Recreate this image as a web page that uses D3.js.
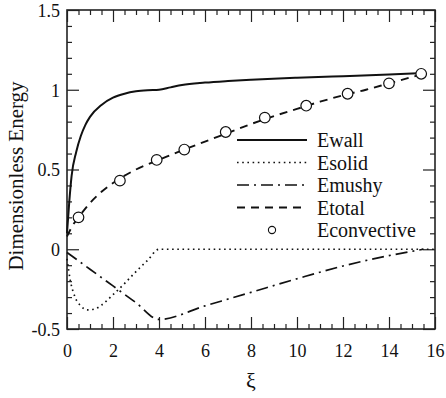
<!DOCTYPE html>
<html>
<head>
<meta charset="utf-8">
<script src="https://cdn.jsdelivr.net/npm/d3@7"></script>
<style>
  html, body { margin: 0; padding: 0; background: #fff; }
  svg { display: block; }
  svg text { font-family: "Liberation Serif", "Times New Roman", Times, serif; fill: #111; }
</style>
</head>
<body>
<svg id="chart" width="446" height="398"></svg>
<script>
// Energy components along the dimensionless coordinate ξ
const ewallX   = [0, 0.1, 0.2, 0.4, 0.6, 0.8, 1.0, 1.5, 2.0, 2.5, 3.0, 3.5, 4.0, 4.5, 5.0, 6.0, 7.0, 8.0, 10.0, 12.0, 14.0, 15.5];
const ewallY   = [0.1, 0.3, 0.46, 0.61, 0.71, 0.78, 0.83, 0.905, 0.95, 0.975, 0.99, 0.997, 1.0, 1.015, 1.03, 1.045, 1.055, 1.063, 1.075, 1.085, 1.095, 1.105];

const esolidX  = [0, 0.15, 0.35, 0.6, 0.9, 1.2, 1.5, 2.0, 2.5, 3.0, 3.5, 4.0, 16.0];
const esolidY  = [-0.06, -0.2, -0.3, -0.355, -0.38, -0.375, -0.35, -0.285, -0.215, -0.14, -0.07, 0, 0];

const emushyX  = [0, 1, 2, 3, 4, 6, 8, 10, 12, 14, 15.5];
const emushyY  = [-0.02, -0.125, -0.23, -0.335, -0.44, -0.355, -0.27, -0.185, -0.105, -0.04, 0];

const etotalX  = [0, 0.25, 0.5, 1.0, 1.5, 2.0, 3.0, 4.0, 5.0, 6.0, 7.0, 8.0, 9.0, 10.0, 11.0, 12.0, 13.0, 14.0, 15.5];
const etotalY  = [0.08, 0.15, 0.2, 0.29, 0.36, 0.415, 0.5, 0.56, 0.62, 0.675, 0.73, 0.785, 0.835, 0.88, 0.925, 0.965, 1.0, 1.04, 1.1];

const econvX   = [0.5, 2.3, 3.9, 5.1, 6.9, 8.6, 10.4, 12.2, 14.0, 15.4];
const econvY   = [0.2, 0.43, 0.56, 0.625, 0.735, 0.825, 0.9, 0.975, 1.04, 1.1];

const xTicks   = [0, 2, 4, 6, 8, 10, 12, 14, 16];
const yTicks   = [-0.5, 0, 0.5, 1, 1.5];
const yTickLabels = ["-0.5", "0", "0.5", "1", "1.5"];

const legendNames = ["Ewall", "Esolid", "Emushy", "Etotal", "Econvective"];

const SERIF = "'Liberation Serif', 'Times New Roman', Times, serif";
const svg = d3.select("#chart").attr("font-family", SERIF);
const plotL = 67, plotR = 435, plotT = 10, plotB = 329;

const x = d3.scaleLinear().domain([0, 16]).range([plotL, plotR]);
const y = d3.scaleLinear().domain([-0.5, 1.5]).range([plotB, plotT]);

// Frame
svg.append("rect")
  .attr("x", plotL).attr("y", plotT)
  .attr("width", plotR - plotL).attr("height", plotB - plotT)
  .attr("fill", "none").attr("stroke", "#222").attr("stroke-width", 1.6);

// Inward ticks on all four sides
const xMinor = d3.range(0, 16.01, 0.5);
const yMinor = d3.range(-0.5, 1.501, 0.1).map(v => +v.toFixed(2));
const isMajorX = v => Math.abs(v / 2 - Math.round(v / 2)) < 1e-6;
const isMajorY = v => Math.abs(v / 0.5 - Math.round(v / 0.5)) < 1e-6;
const MAJ = 12, MIN = 5;

function tickAxis(axisFn, scale, values, len, transform) {
  const g = svg.append("g").attr("transform", transform)
    .call(axisFn(scale).tickValues(values).tickSize(len).tickFormat(""));
  g.select(".domain").remove();
  g.selectAll(".tick line").attr("stroke", "#222").attr("stroke-width", 1.2);
  return g;
}
const xMin = xMinor.filter(v => !isMajorX(v));
const yMin = yMinor.filter(v => !isMajorY(v));
tickAxis(d3.axisTop, x, xMin, MIN, `translate(0,${plotB})`);
tickAxis(d3.axisTop, x, xTicks, MAJ, `translate(0,${plotB})`);
tickAxis(d3.axisBottom, x, xMin, MIN, `translate(0,${plotT})`);
tickAxis(d3.axisBottom, x, xTicks, MAJ, `translate(0,${plotT})`);
tickAxis(d3.axisRight, y, yMin, MIN, `translate(${plotL},0)`);
tickAxis(d3.axisRight, y, yTicks, MAJ, `translate(${plotL},0)`);
tickAxis(d3.axisLeft, y, yMin, MIN, `translate(${plotR},0)`);
tickAxis(d3.axisLeft, y, yTicks, MAJ, `translate(${plotR},0)`);

// Tick labels
const xl = svg.append("g")
  .attr("transform", `translate(0,${plotB})`)
  .call(d3.axisBottom(x).tickValues(xTicks).tickSize(0).tickPadding(0).tickFormat(d3.format("d")));
xl.attr("font-family", SERIF).attr("font-size", 18);
xl.select(".domain").remove();
xl.selectAll("text").attr("dy", null).attr("y", 28).attr("fill", "#111");

const yl = svg.append("g")
  .attr("transform", `translate(${plotL},0)`)
  .call(d3.axisLeft(y).tickValues(yTicks).tickSize(0).tickPadding(7)
    .tickFormat((d, i) => yTickLabels[i]));
yl.attr("font-family", SERIF).attr("font-size", 18);
yl.select(".domain").remove();
yl.selectAll("text").attr("dy", "0.35em").attr("fill", "#111");

// Axis titles
svg.append("text")
  .attr("transform", "translate(23,176) rotate(-90)")
  .attr("text-anchor", "middle").attr("font-size", 21)
  .text("Dimensionless Energy");
svg.append("text")
  .attr("x", x(8)).attr("y", 388)
  .attr("text-anchor", "middle").attr("font-size", 22)
  .text("ξ");

// Curves
const line = d3.line().x(d => x(d[0])).y(d => y(d[1])).curve(d3.curveMonotoneX);
const zip = (a, b) => a.map((v, i) => [v, b[i]]);

const styles = {
  Ewall:  { dash: null,       width: 2.0 },
  Esolid: { dash: "1.6,3.6",  width: 1.7 },
  Emushy: { dash: "12,5,2,5", width: 1.7 },
  Etotal: { dash: "8,6",      width: 1.9 }
};

const plot = svg.append("g");
[["Ewall", ewallX, ewallY], ["Esolid", esolidX, esolidY],
 ["Emushy", emushyX, emushyY], ["Etotal", etotalX, etotalY]].forEach(([name, xs, ys]) => {
  plot.append("path")
    .attr("d", line(zip(xs, ys)))
    .attr("fill", "none").attr("stroke", "#111")
    .attr("stroke-width", styles[name].width)
    .attr("stroke-dasharray", styles[name].dash);
});

plot.selectAll("circle.conv")
  .data(zip(econvX, econvY))
  .join("circle")
  .attr("class", "conv")
  .attr("cx", d => x(d[0])).attr("cy", d => y(d[1]))
  .attr("r", 5.3)
  .attr("fill", "#fff").attr("stroke", "#111").attr("stroke-width", 1.2);

// Legend
const legY0 = 140, legDY = 22.5, lx0 = 237, lx1 = 307, tx = 317;
const leg = svg.append("g");
legendNames.forEach((name, i) => {
  const yy = legY0 + i * legDY;
  if (name === "Econvective") {
    leg.append("circle").attr("cx", (lx0 + lx1) / 2).attr("cy", yy).attr("r", 3.6)
      .attr("fill", "#fff").attr("stroke", "#111").attr("stroke-width", 1.1);
  } else {
    leg.append("line").attr("x1", lx0).attr("x2", lx1).attr("y1", yy).attr("y2", yy)
      .attr("stroke", "#111").attr("stroke-width", styles[name].width)
      .attr("stroke-dasharray", styles[name].dash);
  }
  leg.append("text").attr("x", tx).attr("y", yy + 7).attr("font-size", 20).text(name);
});
</script>
</body>
</html>
